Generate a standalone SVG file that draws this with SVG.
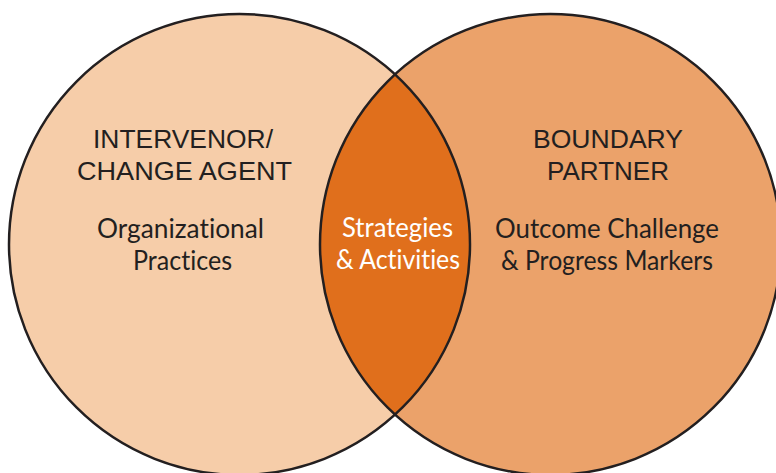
<svg xmlns="http://www.w3.org/2000/svg" width="776" height="473" viewBox="0 0 776 473">
<style>
.outline{fill:none;stroke:#231F20;stroke-width:2.5}
.head{font-family:"Liberation Sans",Arial,sans-serif;font-size:26px;fill:#231F20;text-anchor:middle}
.sub{font-family:Lato,"Noto Sans",sans-serif;font-size:26px;fill:#231F20;text-anchor:middle;font-variant-ligatures:none;font-feature-settings:"liga" 0,"dlig" 0}
.lens{font-family:Lato,"Noto Sans",sans-serif;font-size:26px;fill:#FFFFFF;text-anchor:middle;font-variant-ligatures:none;font-feature-settings:"liga" 0,"dlig" 0}
</style>
<rect width="776" height="473" fill="#FFFFFF"/>
<g id="intervenor">
<circle cx="239.5" cy="244.5" r="230.5" fill="#F6CDA9"/>
</g>
<g id="boundary-partner">
<circle cx="550.5" cy="244.5" r="230.5" fill="#EBA26A"/>
</g>
<g id="overlap">
<path d="M395,74.35 A230.5,230.5 0 0 1 395,414.65 A230.5,230.5 0 0 1 395,74.35 Z" fill="#E06F1C"/>
</g>
<g id="outlines">
<circle class="outline" cx="239.5" cy="244.5" r="230.5"/>
<circle class="outline" cx="550.5" cy="244.5" r="230.5"/>
</g>
<g id="intervenor-text">
<text class="head" x="183" y="148" textLength="180" lengthAdjust="spacingAndGlyphs">INTERVENOR/</text>
<text class="head" x="184.5" y="180" textLength="215" lengthAdjust="spacingAndGlyphs">CHANGE AGENT</text>
<text class="sub" x="180.5" y="238" textLength="167" lengthAdjust="spacingAndGlyphs">Organizational</text>
<text class="sub" x="182.5" y="270" textLength="99" lengthAdjust="spacingAndGlyphs">Practices</text>
</g>
<g id="overlap-text">
<text class="lens" x="397.5" y="237" textLength="111" lengthAdjust="spacingAndGlyphs">Strategies</text>
<text class="lens" x="398" y="269" textLength="124" lengthAdjust="spacingAndGlyphs">&amp; Activities</text>
</g>
<g id="boundary-partner-text">
<text class="head" x="608" y="148" textLength="150" lengthAdjust="spacingAndGlyphs">BOUNDARY</text>
<text class="head" x="608" y="180" textLength="122" lengthAdjust="spacingAndGlyphs">PARTNER</text>
<text class="sub" x="607" y="238" textLength="224" lengthAdjust="spacingAndGlyphs">Outcome Challenge</text>
<text class="sub" x="607" y="270" textLength="212" lengthAdjust="spacingAndGlyphs">&amp; Progress Markers</text>
</g>
</svg>
